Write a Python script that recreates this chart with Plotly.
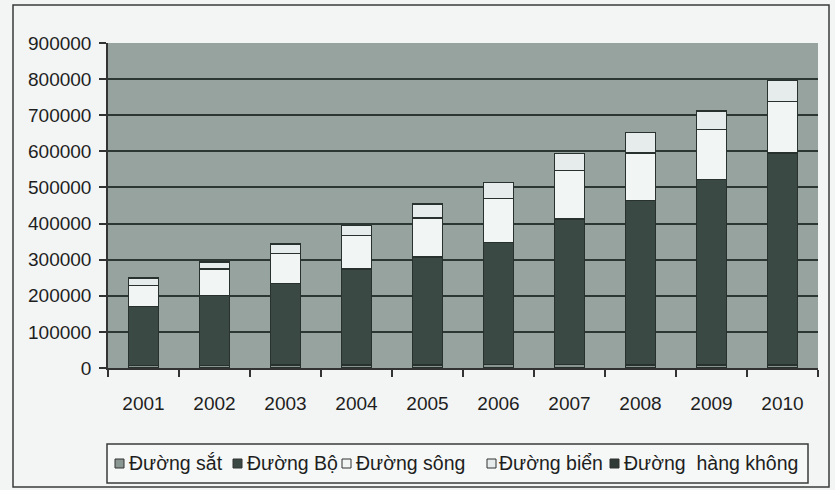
import plotly.graph_objects as go

# ---- data (thousand tonnes) ----
years = ["2001", "2002", "2003", "2004", "2005", "2006", "2007", "2008", "2009", "2010"]
rail = [6457, 7051, 8385, 8874, 8787, 9154, 9050, 8481, 8248, 7862]
road = [164016, 193379, 225297, 264762, 298051, 338623, 403362, 455898, 513575, 587014]
river = [58000, 74000, 83000, 93000, 108000, 122000, 135000, 131000, 138000, 143000]
sea = [21000, 19000, 27000, 28000, 40000, 44000, 46000, 57000, 52000, 58000]
air = [103, 114, 120, 130, 152, 160, 175, 180, 183, 190]
series_names = ["Đường sắt", "Đường Bộ", "Đường sông", "Đường biển", "Đường\u00a0 hàng không"]
y_ticks = [0, 100000, 200000, 300000, 400000, 500000, 600000, 700000, 800000, 900000]

# ---- styles ----
colors = ["#8a9692", "#3b4944", "#f1f5f4", "#e6eceb", "#2f3935"]
edge = "#28312e"
W, H = 835, 490
L, R, T, B = 108, 17, 43, 122
PW, PH = W - L - R, H - T - B


def px(x):
    return (x - L) / PW


def py(y):
    return (T + PH - y) / PH


fig = go.Figure()
for name, vals, col in zip(series_names, [rail, road, river, sea, air], colors):
    fig.add_trace(go.Bar(
        x=years, y=vals, name=name, showlegend=False,
        marker=dict(color=col, line=dict(color=edge, width=1.5)),
    ))

# manual legend (box, swatches, labels)
shapes = [
    dict(type="rect", xref="paper", yref="paper", x0=px(13), x1=px(829), y0=py(487), y1=py(5),
         line=dict(color="#3a3a3a", width=1.5), fillcolor="rgba(0,0,0,0)", layer="below"),
    dict(type="rect", xref="paper", yref="paper", x0=px(107), x1=px(808), y0=py(483), y1=py(444),
         line=dict(color="#3a3a3a", width=1.5), fillcolor="#f5f8f7"),
]
annotations = []
marker_x = [115, 233, 342, 487, 610]
text_x = [127, 245, 354, 497, 622]
for mx, tx, name, col in zip(marker_x, text_x, series_names, colors):
    shapes.append(dict(type="rect", xref="paper", yref="paper", x0=px(mx), x1=px(mx + 9),
                       y0=py(468), y1=py(459), line=dict(color="#333", width=1), fillcolor=col))
    annotations.append(dict(text=name, xref="paper", yref="paper", x=px(tx), y=py(463),
                            xanchor="left", yanchor="middle", showarrow=False,
                            font=dict(size=19.5, color="#1e1e1e")))

fig.update_layout(
    width=W, height=H,
    margin=dict(l=L, r=R, t=T, b=B),
    barmode="stack", bargap=0.58,
    paper_bgcolor="#f2f5f4", plot_bgcolor="#97a39f",
    font=dict(family="Liberation Sans, Arial, sans-serif", size=19, color="#1e1e1e"),
    shapes=shapes, annotations=annotations,
    xaxis=dict(type="category", tickson="boundaries", ticks="outside", ticklen=7,
               tickwidth=1.5, tickcolor="#333", showline=True, linecolor="#333",
               linewidth=1.5, showgrid=False, ticklabelstandoff=17),
    yaxis=dict(range=[0, 900000], tickvals=y_ticks, tickformat="d", ticks="outside",
               ticklen=7, tickwidth=1.5, tickcolor="#333", showline=True, linecolor="#333",
               linewidth=1.5, gridcolor="#2c3633", gridwidth=1.6, zeroline=False,
               ticklabelstandoff=4),
)

fig.write_html("out.html")
